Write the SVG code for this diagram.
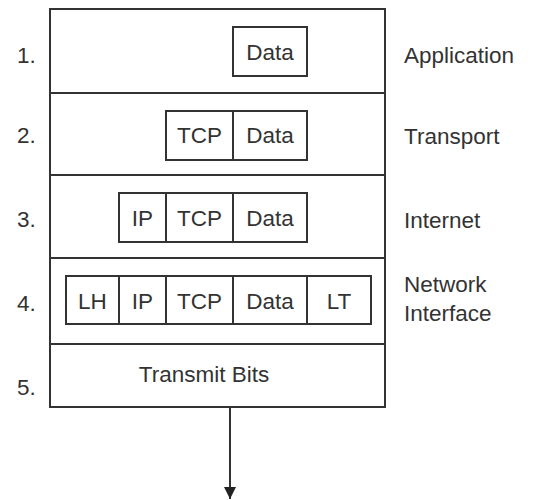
<svg xmlns="http://www.w3.org/2000/svg" width="533" height="500" viewBox="0 0 533 500">
<style>
.ln{fill:none;stroke:#333;stroke-width:2}
.box{fill:#fff;stroke:#333;stroke-width:2}
text{font-family:"Liberation Sans",Arial,sans-serif;font-size:22.5px;fill:#333}
.c{text-anchor:middle}
</style>
<defs>
<marker id="ah" markerWidth="12" markerHeight="12" refX="10" refY="5" orient="auto" markerUnits="userSpaceOnUse" viewBox="0 0 10 10">
<path d="M0,0 L10,5 L0,10 Z" fill="#222"/>
</marker>
</defs>
<g id="layer1">
<rect class="ln" x="50" y="9" width="335" height="84"/>
<text x="17" y="63">1.</text>
<text x="404" y="63">Application</text>
<rect class="box" x="233" y="27" width="74" height="49"/>
<text class="c" x="270" y="60">Data</text>
</g>
<g id="layer2">
<rect class="ln" x="50" y="93" width="335" height="82"/>
<text x="17" y="143">2.</text>
<text x="404" y="144">Transport</text>
<rect class="box" x="166" y="111" width="67" height="49"/>
<text class="c" x="199.5" y="143">TCP</text>
<rect class="box" x="233" y="111" width="74" height="49"/>
<text class="c" x="270" y="143">Data</text>
</g>
<g id="layer3">
<rect class="ln" x="50" y="175" width="335" height="83"/>
<text x="17" y="227">3.</text>
<text x="404" y="228">Internet</text>
<rect class="box" x="119" y="193" width="47" height="49"/>
<text class="c" x="142.5" y="226">IP</text>
<rect class="box" x="166" y="193" width="67" height="49"/>
<text class="c" x="199.5" y="226">TCP</text>
<rect class="box" x="233" y="193" width="74" height="49"/>
<text class="c" x="270" y="226">Data</text>
</g>
<g id="layer4">
<rect class="ln" x="50" y="258" width="335" height="86"/>
<text x="17" y="311">4.</text>
<text x="404" y="292">Network</text>
<text x="404" y="321">Interface</text>
<rect class="box" x="66" y="276" width="53" height="48"/>
<text class="c" x="92.5" y="309">LH</text>
<rect class="box" x="119" y="276" width="47" height="48"/>
<text class="c" x="142.5" y="309">IP</text>
<rect class="box" x="166" y="276" width="67" height="48"/>
<text class="c" x="199.5" y="309">TCP</text>
<rect class="box" x="233" y="276" width="74" height="48"/>
<text class="c" x="270" y="309">Data</text>
<rect class="box" x="307" y="276" width="64" height="48"/>
<text class="c" x="339" y="309">LT</text>
</g>
<g id="layer5">
<rect class="ln" x="50" y="344" width="335" height="63"/>
<text x="17" y="395">5.</text>
<text class="c" x="204" y="382">Transmit Bits</text>
</g>
<g id="connectors">
<line class="ln" x1="230" y1="407" x2="230" y2="499" marker-end="url(#ah)"/>
</g>
</svg>
